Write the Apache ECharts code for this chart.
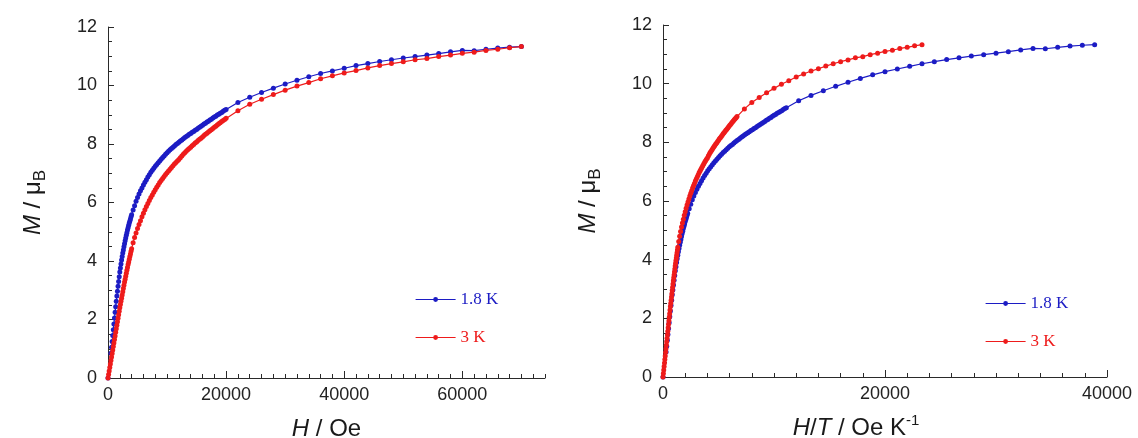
<!DOCTYPE html>
<html>
<head>
<meta charset="utf-8">
<script src="https://cdn.jsdelivr.net/npm/echarts@6/dist/echarts.min.js"></script>
<style>
html,body{margin:0;padding:0;background:#fff;}
#chart{width:1138px;height:438px;}
</style>
</head>
<body>
<div id="chart"></div>
<script>
// ---- data: [H (Oe), M (muB)] ----
const seriesNames = ['1.8 K', '3 K'];
const temperatures = [1.8, 3];

const curve18K = [
  [0,0],[500,0.85],[600,1.05],[700,1.25],[800,1.45],[900,1.65],[1000,1.85],[1100,2.05],[1200,2.25],[1300,2.44],
  [1400,2.62],[1500,2.80],[1600,2.97],[1700,3.14],[1800,3.30],[1900,3.46],[2000,3.62],[2100,3.76],[2200,3.90],[2300,4.03],
  [2400,4.15],[2500,4.27],[2600,4.38],[2700,4.49],[2800,4.59],[2900,4.69],[3000,4.79],[3100,4.88],[3200,4.97],[3300,5.06],
  [3400,5.14],[3500,5.22],[3600,5.30],[3700,5.37],[3800,5.44],[3900,5.51],[4000,5.58],
  [4250,5.74],[4500,5.89],[4750,6.04],[5000,6.17],[5250,6.29],[5500,6.40],[5750,6.50],[6000,6.60],[6250,6.69],[6500,6.78],
  [6750,6.87],[7000,6.95],[7250,7.03],[7500,7.10],[7750,7.17],[8000,7.24],[8250,7.30],[8500,7.36],[8750,7.42],[9000,7.48],
  [9250,7.54],[9500,7.59],[9750,7.65],[10000,7.70],[10250,7.75],[10500,7.80],[10750,7.85],[11000,7.89],[11250,7.93],[11500,7.98],
  [11750,8.02],[12000,8.06],[12250,8.10],[12500,8.14],[12750,8.18],[13000,8.22],[13250,8.26],[13500,8.29],[13750,8.33],[14000,8.36],
  [14250,8.40],[14500,8.43],[14750,8.47],[15000,8.50],[15250,8.54],[15500,8.57],[15750,8.61],[16000,8.64],[16250,8.68],[16500,8.71],
  [16750,8.75],[17000,8.78],[17250,8.82],[17500,8.85],[17750,8.89],[18000,8.92],[18250,8.95],[18500,8.99],[18750,9.02],[19000,9.05],
  [19250,9.08],[19500,9.12],[19750,9.15],[20000,9.18],
  [22000,9.42],[24000,9.60],[26000,9.76],[28000,9.91],[30000,10.05],[32000,10.18],[34000,10.30],[36000,10.41],[38000,10.50],[40000,10.59],
  [42000,10.68],[44000,10.75],[46000,10.82],[48000,10.88],[50000,10.94],[52000,10.99],[54000,11.04],[56000,11.09],[58000,11.15],[60000,11.20],
  [62000,11.19],[64000,11.24],[66000,11.28],[68000,11.31],[70000,11.33]
];

const curve3K = [
  [0,0],[100,0.12],[200,0.24],[300,0.36],[400,0.48],[500,0.60],[600,0.72],[700,0.84],[800,0.96],[900,1.08],[1000,1.20],
  [1100,1.32],[1200,1.44],[1300,1.56],[1400,1.68],[1500,1.80],[1600,1.92],[1700,2.04],[1800,2.16],[1900,2.28],[2000,2.40],
  [2100,2.51],[2200,2.62],[2300,2.73],[2400,2.84],[2500,2.95],[2600,3.06],[2700,3.17],[2800,3.28],[2900,3.38],[3000,3.48],
  [3100,3.58],[3200,3.68],[3300,3.78],[3400,3.88],[3500,3.97],[3600,4.06],[3700,4.15],[3800,4.24],[3900,4.33],[4000,4.42],
  [4250,4.62],[4500,4.80],[4750,4.96],[5000,5.11],[5250,5.25],[5500,5.38],[5750,5.51],[6000,5.63],[6250,5.75],[6500,5.86],
  [6750,5.97],[7000,6.07],[7250,6.17],[7500,6.26],[7750,6.35],[8000,6.44],[8250,6.52],[8500,6.60],[8750,6.68],[9000,6.75],
  [9250,6.82],[9500,6.89],[9750,6.96],[10000,7.02],[10250,7.08],[10500,7.14],[10750,7.20],[11000,7.26],[11250,7.32],[11500,7.37],
  [11750,7.42],[12000,7.47],[12250,7.53],[12500,7.59],[12750,7.65],[13000,7.70],[13250,7.75],[13500,7.80],[13750,7.85],[14000,7.89],
  [14250,7.94],[14500,7.98],[14750,8.03],[15000,8.07],[15250,8.12],[15500,8.16],[15750,8.20],[16000,8.24],[16250,8.29],[16500,8.33],
  [16750,8.37],[17000,8.41],[17250,8.45],[17500,8.49],[17750,8.53],[18000,8.57],[18250,8.61],[18500,8.65],[18750,8.69],[19000,8.73],
  [19250,8.77],[19500,8.80],[19750,8.84],[20000,8.88],
  [22000,9.14],[24000,9.36],[26000,9.53],[28000,9.69],[30000,9.84],[32000,9.98],[34000,10.10],[36000,10.23],[38000,10.33],[40000,10.43],
  [42000,10.51],[44000,10.60],[46000,10.68],[48000,10.75],[50000,10.81],[52000,10.88],[54000,10.92],[56000,10.99],[58000,11.04],[60000,11.10],
  [62000,11.14],[64000,11.20],[66000,11.24],[68000,11.29],[70000,11.33]
];

// tick settings (values)
const yTicks = [0, 2, 4, 6, 8, 10, 12];
const xTicksLeft = [0, 20000, 40000, 60000];
const xTicksRight = [0, 20000, 40000];

// ---- style ----
const BLUE = '#1c1cc4';
const RED = '#ee1b1b';
const AXIS = '#2a2a2a';
const SANS = 'Liberation Sans, Arial, sans-serif';
const SERIF = 'Liberation Serif, Times New Roman, serif';
const plain = v => String(v);

const chart = echarts.init(document.getElementById('chart'), null, {renderer: 'canvas'});

function yAxis(gridIndex) {
  return {
    gridIndex, type: 'value', min: yTicks[0], max: yTicks[yTicks.length - 1], interval: 2,
    name: '{i|M} / μ{s|B}', nameLocation: 'middle', nameRotate: 90, nameGap: 60,
    nameTextStyle: {
      fontFamily: SANS, fontSize: 24, color: '#1a1a1a', lineHeight: 30,
      rich: {
        i: {fontFamily: SANS, fontSize: 24, fontStyle: 'italic', color: '#1a1a1a', lineHeight: 30},
        s: {fontFamily: SANS, fontSize: 17, color: '#1a1a1a', lineHeight: 30, padding: [14, 0, 0, 0]}
      }
    },
    axisLine: {show: true, onZero: false, lineStyle: {color: AXIS, width: 1}},
    axisTick: {show: true, inside: true, length: 6, lineStyle: {color: AXIS, width: 1}},
    minorTick: {show: true, splitNumber: 4, length: 4, lineStyle: {color: AXIS, width: 1}},
    axisLabel: {fontFamily: SANS, fontSize: 18, color: '#222', margin: 11, formatter: plain},
    splitLine: {show: false},
    minorSplitLine: {show: false}
  };
}

const series = [];
function addSeries(name, color, data, xIdx, yIdx) {
  series.push({
    name, type: 'line', xAxisIndex: xIdx, yAxisIndex: yIdx, data,
    symbol: 'circle', symbolSize: 5, showSymbol: true,
    lineStyle: {color, width: 1.2}, itemStyle: {color},
    animation: false, z: name === seriesNames[1] ? 3 : 2
  });
}
addSeries(seriesNames[0], BLUE, curve18K, 0, 0);
addSeries(seriesNames[1], RED, curve3K, 0, 0);
addSeries(seriesNames[0], BLUE, curve18K.map(p => [p[0] / temperatures[0], p[1]]), 2, 1);
addSeries(seriesNames[1], RED, curve3K.map(p => [p[0] / temperatures[1], p[1]]), 2, 1);

function legend(left, top) {
  return {
    left, top, orient: 'vertical', itemWidth: 40, itemHeight: 6, itemGap: 21,
    selectedMode: false,
    textStyle: {fontFamily: SERIF, fontSize: 17},
    lineStyle: {width: 1.2},
    data: [
      {name: seriesNames[0], textStyle: {color: BLUE}},
      {name: seriesNames[1], textStyle: {color: RED}}
    ]
  };
}

const option = {
  animation: false,
  backgroundColor: '#fff',
  grid: [
    {left: 108, top: 27, width: 437, height: 351, outerBoundsMode: 'none', containLabel: false},
    {left: 663, top: 25, width: 444, height: 352, outerBoundsMode: 'none', containLabel: false}
  ],
  legend: [legend(410, 286), legend(980, 290)],
  xAxis: [
    { // left plot: minor ticks every 2000 Oe
      gridIndex: 0, type: 'value', min: 0, max: 74000, interval: 2000,
      name: '{i|H} / Oe', nameLocation: 'middle', nameGap: 36,
      nameTextStyle: {fontFamily: SANS, fontSize: 24, color: '#1a1a1a', lineHeight: 30,
        rich: {i: {fontFamily: SANS, fontSize: 24, fontStyle: 'italic', color: '#1a1a1a', lineHeight: 30}}},
      axisLine: {show: true, onZero: false, lineStyle: {color: AXIS, width: 1}},
      axisTick: {show: true, inside: true, length: 4, lineStyle: {color: AXIS, width: 1}},
      axisLabel: {show: false},
      splitLine: {show: false}
    },
    { // left plot: major ticks + labels
      gridIndex: 0, type: 'value', min: 0, max: 74000, interval: 20000, position: 'bottom',
      axisLine: {show: false, onZero: false},
      axisTick: {show: true, inside: true, length: 7, lineStyle: {color: AXIS, width: 1}},
      axisLabel: {fontFamily: SANS, fontSize: 18, color: '#222', margin: 8, showMaxLabel: false,
        formatter: v => xTicksLeft.includes(v) ? String(v) : ''},
      splitLine: {show: false}
    },
    {
      gridIndex: 1, type: 'value', min: xTicksRight[0], max: xTicksRight[xTicksRight.length - 1], interval: 20000,
      name: '{i|H}/{i|T} / Oe K{p|-1}', nameLocation: 'middle', nameGap: 36,
      nameTextStyle: {fontFamily: SANS, fontSize: 24, color: '#1a1a1a', padding: [0, 58, 0, 0], lineHeight: 30,
        rich: {
          i: {fontFamily: SANS, fontSize: 24, fontStyle: 'italic', color: '#1a1a1a', lineHeight: 30},
          p: {fontFamily: SANS, fontSize: 15, color: '#1a1a1a', lineHeight: 30, padding: [0, 0, 14, 0]}
        }},
      axisLine: {show: true, onZero: false, lineStyle: {color: AXIS, width: 1}},
      axisTick: {show: true, inside: true, length: 7, lineStyle: {color: AXIS, width: 1}},
      minorTick: {show: true, splitNumber: 10, length: 4, lineStyle: {color: AXIS, width: 1}},
      axisLabel: {fontFamily: SANS, fontSize: 18, color: '#222', margin: 8, formatter: plain},
      splitLine: {show: false},
      minorSplitLine: {show: false}
    }
  ],
  yAxis: [yAxis(0), yAxis(1)],
  series
};
chart.setOption(option);
</script>
</body>
</html>
